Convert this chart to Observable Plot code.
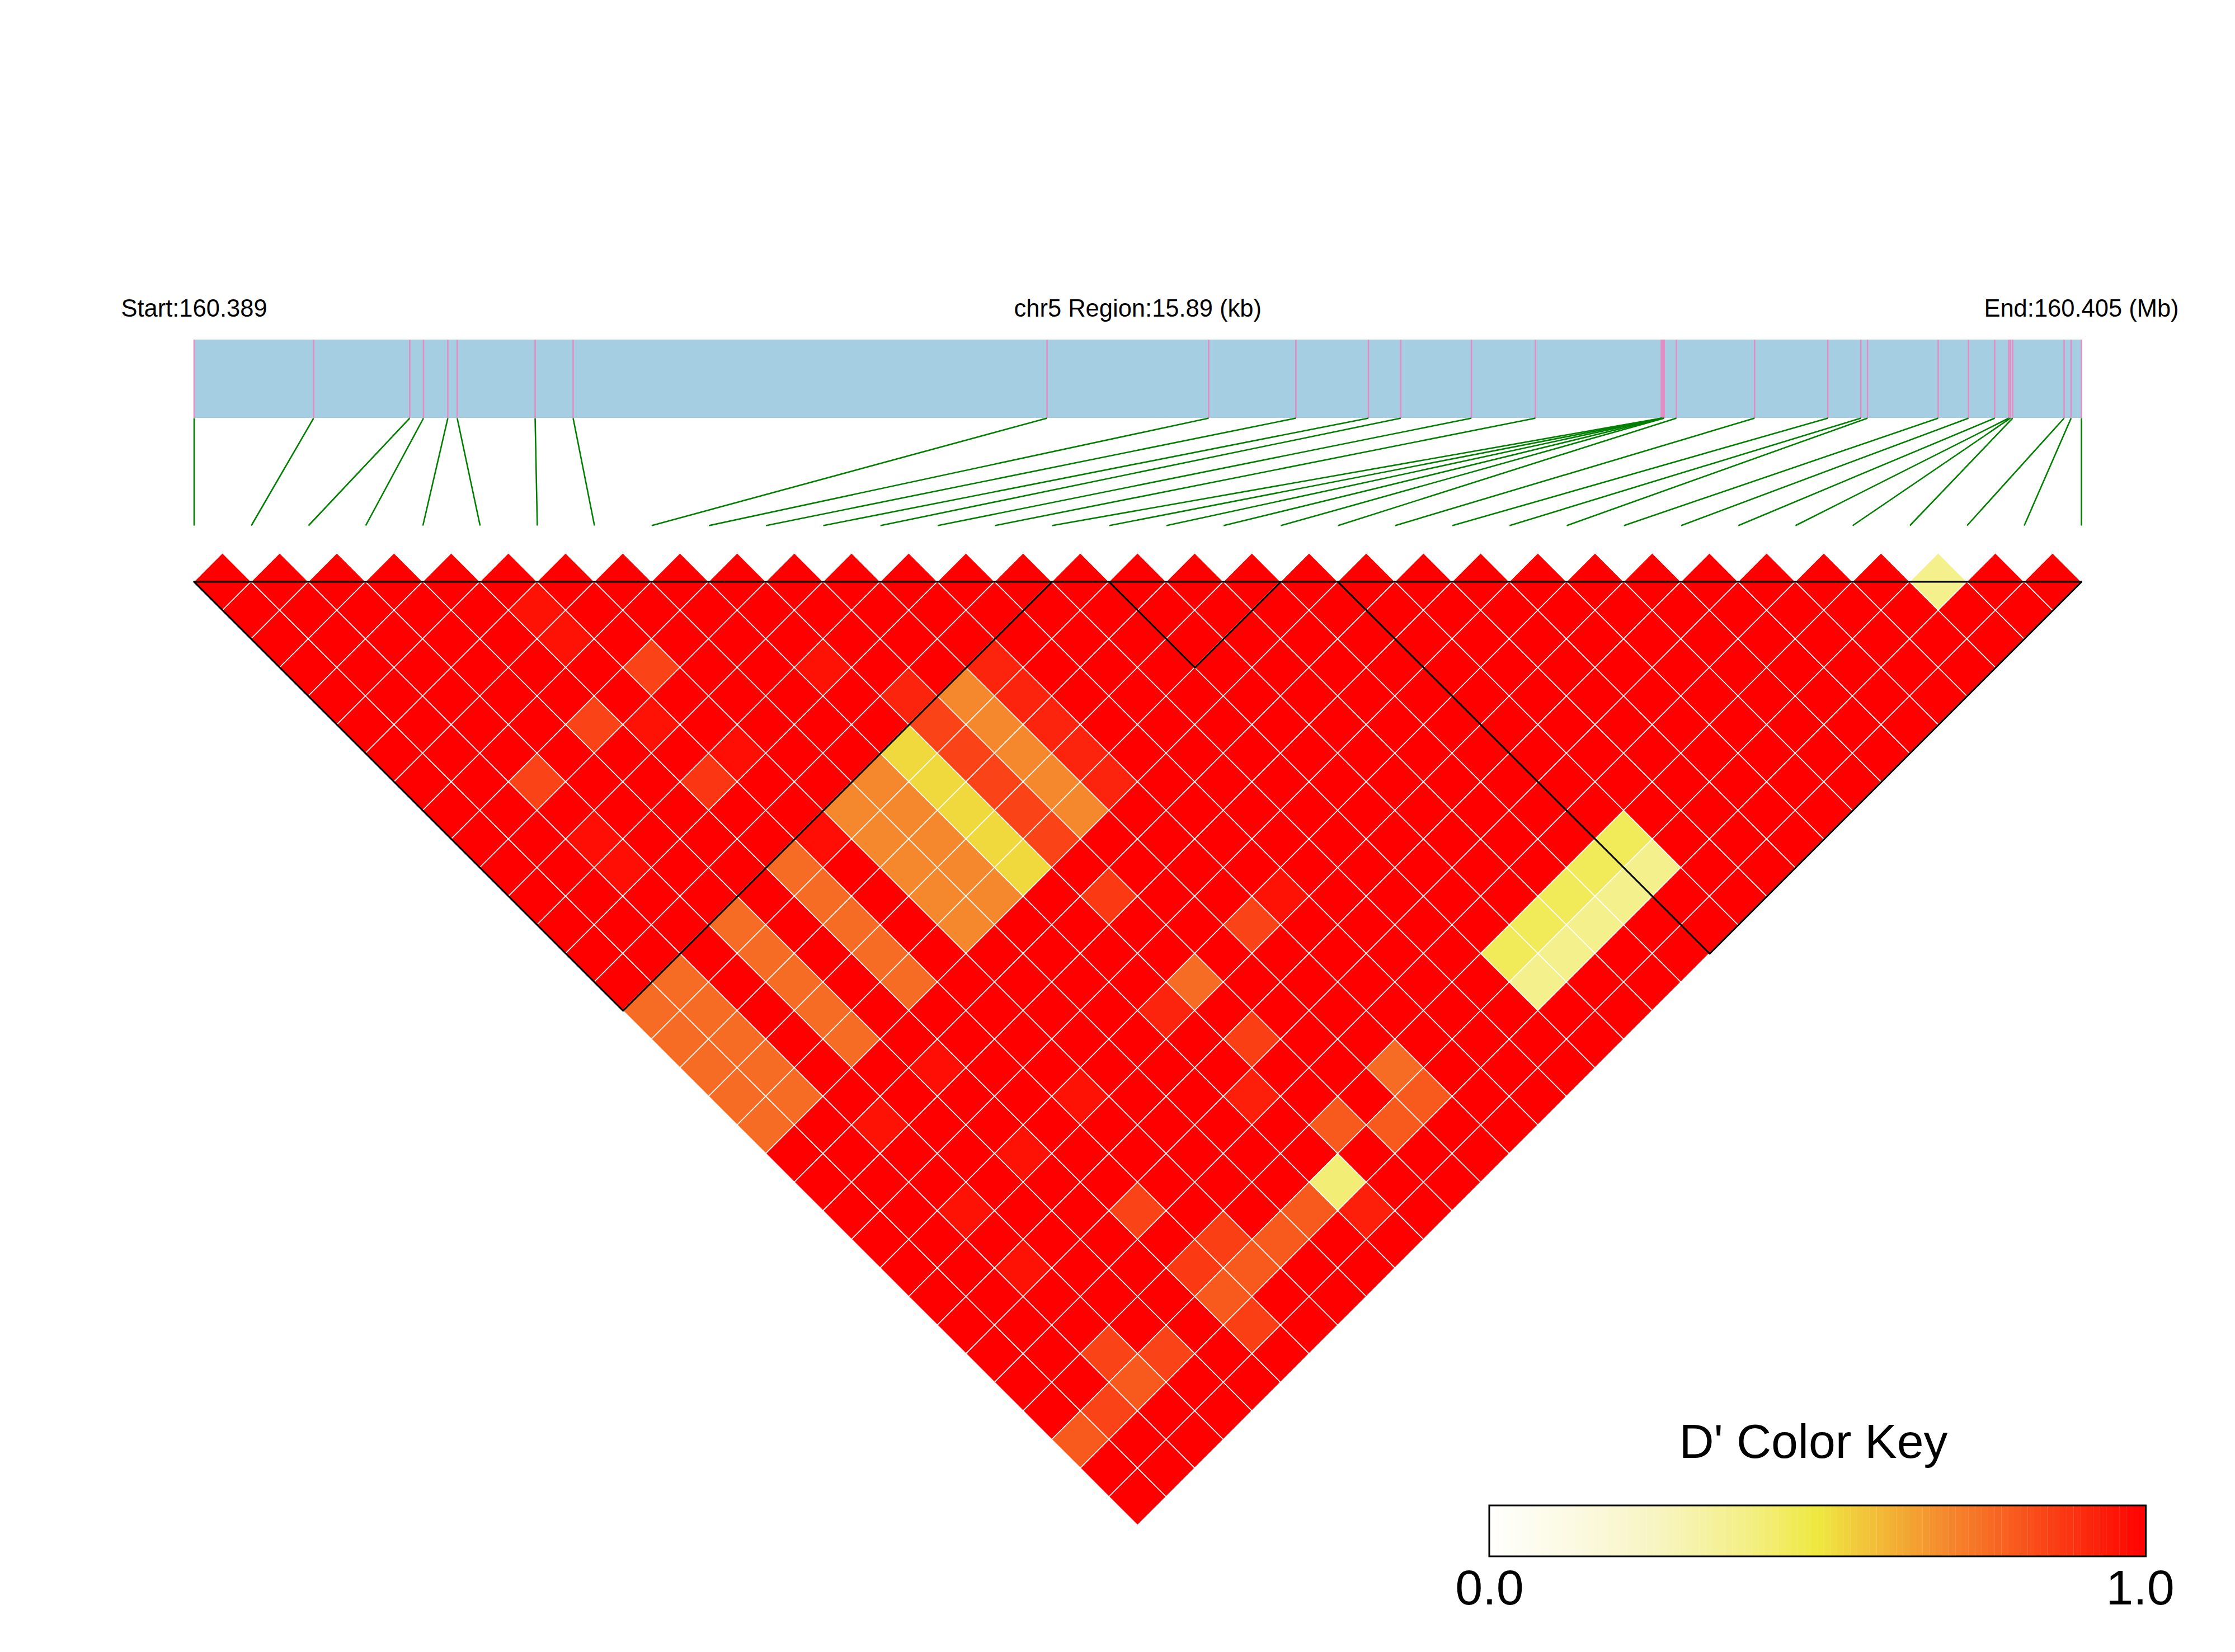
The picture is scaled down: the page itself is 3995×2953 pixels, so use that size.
<!DOCTYPE html>
<html>
<head>
<meta charset="utf-8">
<script src="https://cdn.jsdelivr.net/npm/d3@7"></script>
<script src="https://cdn.jsdelivr.net/npm/@observablehq/plot@0.6"></script>
<style>
html, body { margin: 0; padding: 0; background: #ffffff; }
#chart svg { display: block; }
</style>
</head>
<body>
<div id="chart"></div>
<script>
// ---------------- data ----------------
const chrom = "chr5";
// SNP physical positions (bp)
const positions = [
  160389100, 160390106, 160390915, 160391031, 160391236, 160391315, 160391971, 160392291,
  160396281, 160397642, 160398376, 160398987, 160399259, 160399854, 160400393, 160401453,
  160401458, 160401462, 160401472, 160401477, 160401580, 160402238, 160402855, 160403133,
  160403189, 160403784, 160404039, 160404260, 160404378, 160404392, 160404411, 160404844,
  160404903, 160404990
];
// LD blocks (first SNP index, last SNP index)
const blocks = [[0, 15], [16, 19], [20, 33]];
// D' upper triangle: row i holds D'(i, j) for j = i+1 .. 33
const dprime = [
  [1,1,1,1,1, 1,1,1,1,1, 1,1,1,1,1, .76,.76,.76,.76,.76, 1,1,1,1,1, 1,1,1,1,1, .8,1,1],
  [1,1,1,1,1, 1,1,1,1,1, 1,1,1,1, .76,.76,.76,.76,.76, 1,1,1,1,1, 1,1,1,1,1, .85,1,1],
  [1,1,1,1,1, 1,1, .85, 1, .97, .97, 1,1,1,1, 1,1,1,1, .96, 1,1, .96, 1, .96, 1,1, .85, .8, 1,1],
  [1,1,1,1,1, 1,1,1,1,1, 1,1, .76,.76,.76,.76,.76, 1,1,1,1,1, 1,1,1,1,1, .85,1,1],
  [1,1,1,1,1, .85, 1,1,1,1,1, 1,1,1,1,1, 1, .97, 1,1, .96, 1,1,1,1, 1,1,1,1],
  [1, .96, .96, 1, 1, .96, 1, .88, 1, 1, .76,.76,.76,.76,.76, 1,1,1,1,1, 1,1, .85, 1, .87, .8, .86, 1],
  [1,1,1, .85, 1,1, .97, 1,1, .97, 1,1,1,1, 1,1,1,1, .96, 1,1,1,1, .86, .8, 1,1],
  [1,1,1,1, 1,1,1,1, .7,.7,.7,.7,.7, 1,1,1,1,1, 1,1,1,1,1, .8, 1,1],
  [1,1,1,1, 1,1,1, .7,.7,.7,.7,.7, 1,1,1,1,1, 1,1,1,1,1, .8, 1,1],
  [1,1,1, .96, 1,1, .53,.53,.53,.53,.53, 1,1,1,1, .92, 1,1, .93, 1,1, .42, .93, 1],
  [1,1,1,1, .92, .85,.85,.85,.85,.85, 1, .87, 1,1, .76, 1, .86, 1,1, .8, 1,1,1],
  [1,1,1,1, .7,.7,.7,.7,.7, 1,1,1,1,1, 1,1,1,1,1, .8, 1,1],
  [1,1,1, .92,.92,.92,.92,.92, 1,1,1,1, .85, 1,1,1,1, .76, .8, 1,1],
  [1,1,1,1,1, 1,1,1,1,1, 1, .96, 1,1,1,1, 1,1,1,1],
  [1,1,1,1,1, 1,1,1,1,1, 1,1,1,1,1, 1,1,1,1],
  [1,1,1,1,1, 1,1,1,1,1, 1,1,1,1,1, 1,1,1],
  [1,1,1,1,1, 1,1,1,1,1, 1,1,1, .46, .38, 1,1],
  [1,1,1,1,1, 1,1,1,1,1, 1,1, .46, .38, 1,1],
  [1,1,1,1,1, 1,1,1,1,1, 1, .46, .38, 1,1],
  [1,1,1,1,1, 1,1,1,1,1, .46, .38, 1,1],
  [1,1,1,1,1, 1,1,1,1, .46, .38, 1,1],
  [1,1,1,1,1, 1,1,1,1,1, 1,1],
  [1,1,1,1,1, 1,1,1,1,1, 1],
  [1,1,1,1,1, 1,1,1,1,1],
  [1,1,1,1,1, 1,1,1,1],
  [1,1,1,1,1, 1,1,1],
  [1,1,1,1,1, 1,1],
  [1,1,1,1,1, 1],
  [1,1,1,1,1],
  [1,1,1,1],
  [.38, 1, 1],
  [1, 1],
  [1]
];
const keyLabels = ["0.0", "1.0"];
const keyTitle = "D' Color Key";
const colorStops = [0, 0.25, 0.4, 0.5, 0.7, 1];
const colorRange = ["#ffffff", "#f8f5c4", "#f3ef82", "#efe840", "#f5872d", "#ff0000"];

// ---------------- layout ----------------
const W = 3995, H = 2953;
const n = positions.length;
const X0 = 346.5, X1 = 3720;          // pixel extent of the SNP row
const U = (X1 - X0) / (n - 1);        // pixels per SNP step
const Y0 = 1039.6;                     // pixel of the triangle top edge
const ux = px => (px - X0) / U;
const uy = px => (px - Y0) / U;

const p0 = positions[0], pN = positions[n - 1];
const phys = p => (p - p0) / (pN - p0) * (n - 1);

// heatmap diamonds
const cells = [];
dprime.forEach((row, i) => {
  if (row.length !== n - 1 - i) console.error("row length mismatch", i, row.length);
  row.forEach((v, k) => {
    const j = i + 1 + k;
    const cx = (i + j) / 2, cy = (j - i - 1) / 2;
    const id = i * 100 + j;
    cells.push({id, v, x: cx - 0.5, y1: cy, y2: cy});
    cells.push({id, v, x: cx, y1: cy - 0.5, y2: cy + 0.5});
    cells.push({id, v, x: cx + 0.5, y1: cy, y2: cy});
  });
});

const blockPts = [];
blocks.forEach(([a, b], bi) => {
  blockPts.push({b: bi, x: a, y: 0});
  blockPts.push({b: bi, x: (a + b) / 2, y: (b - a) / 2});
  blockPts.push({b: bi, x: b, y: 0});
});

const barTop = uy(607), barBot = uy(747), lineBot = uy(939);

// colour key
const keyL = 2662, keyR = 3835.5, keyT = 2691, keyB = 2782;
const nStripes = 100;
const stripes = d3.range(nStripes).map(k => ({
  x1: ux(keyL + (keyR - keyL) * k / nStripes),
  x2: ux(keyL + (keyR - keyL) * (k + 1) / nStripes) + 0.002,
  v: (k + 0.5) / nStripes
}));

const startTxt = "Start:" + (p0 / 1e6).toFixed(3);
const endTxt = "End:" + (pN / 1e6).toFixed(3) + " (Mb)";
const regTxt = chrom + " Region:" + ((pN - p0) / 1000).toFixed(2) + " (kb)";

const font = "'Liberation Sans', Arial, Helvetica, sans-serif";

const plot = Plot.plot({
  width: W,
  height: H,
  margin: 0,
  style: {fontFamily: font, background: "#ffffff"},
  x: {domain: [ux(0), ux(W)], range: [0, W], axis: null},
  y: {domain: [uy(0), uy(H)], range: [0, H], axis: null},
  color: {type: "linear", domain: colorStops, range: colorRange, interpolate: "rgb"},
  marks: [
    // gene bar
    Plot.rect([{x1: 0, x2: n - 1, y1: barTop, y2: barBot}],
      {x1: "x1", x2: "x2", y1: "y1", y2: "y2", fill: "#a6cee3"}),
    Plot.ruleX(positions, {x: d => phys(d), y1: () => barTop, y2: () => barBot,
      stroke: "#e78ac3", strokeWidth: 2.5}),
    // connectors
    Plot.link(positions, {x1: d => phys(d), y1: () => barBot, x2: (d, i) => i, y2: () => lineBot,
      stroke: "#007f00", strokeWidth: 2.6}),
    // LD heatmap
    Plot.areaY(cells, {x: "x", y1: "y1", y2: "y2", z: "id", fill: "v",
      stroke: "#ffffff", strokeWidth: 1.6, curve: "linear"}),
    // top edge and blocks
    Plot.line([{x: 0, y: 0}, {x: n - 1, y: 0}], {x: "x", y: "y", stroke: "#000000", strokeWidth: 3}),
    Plot.line(blockPts, {x: "x", y: "y", z: "b", stroke: "#000000", strokeWidth: 3}),
    // labels
    Plot.text([
      {x: 0, t: startTxt},
      {x: (n - 1) / 2, t: regTxt},
      {x: n - 1, t: endTxt}
    ], {x: "x", y: () => uy(565), text: "t", fontSize: 43.5, textAnchor: "middle",
        lineAnchor: "bottom", fill: "#000000"}),
    // colour key
    Plot.rect(stripes, {x1: "x1", x2: "x2", y1: () => uy(keyT), y2: () => uy(keyB), fill: "v"}),
    Plot.rect([{x1: ux(keyL), x2: ux(keyR), y1: uy(keyT), y2: uy(keyB)}],
      {x1: "x1", x2: "x2", y1: "y1", y2: "y2", fill: "none", stroke: "#000000", strokeWidth: 3}),
    Plot.text([{x: ux(3241), t: keyTitle}],
      {x: "x", y: () => uy(2605), text: "t", fontSize: 86, textAnchor: "middle",
       lineAnchor: "bottom", fill: "#000000"}),
    Plot.text([{x: ux(keyL), t: keyLabels[0]}, {x: ux(3825), t: keyLabels[1]}],
      {x: "x", y: () => uy(2867), text: "t", fontSize: 88, textAnchor: "middle",
       lineAnchor: "bottom", fill: "#000000"})
  ]
});
document.getElementById("chart").append(plot);
</script>
</body>
</html>
